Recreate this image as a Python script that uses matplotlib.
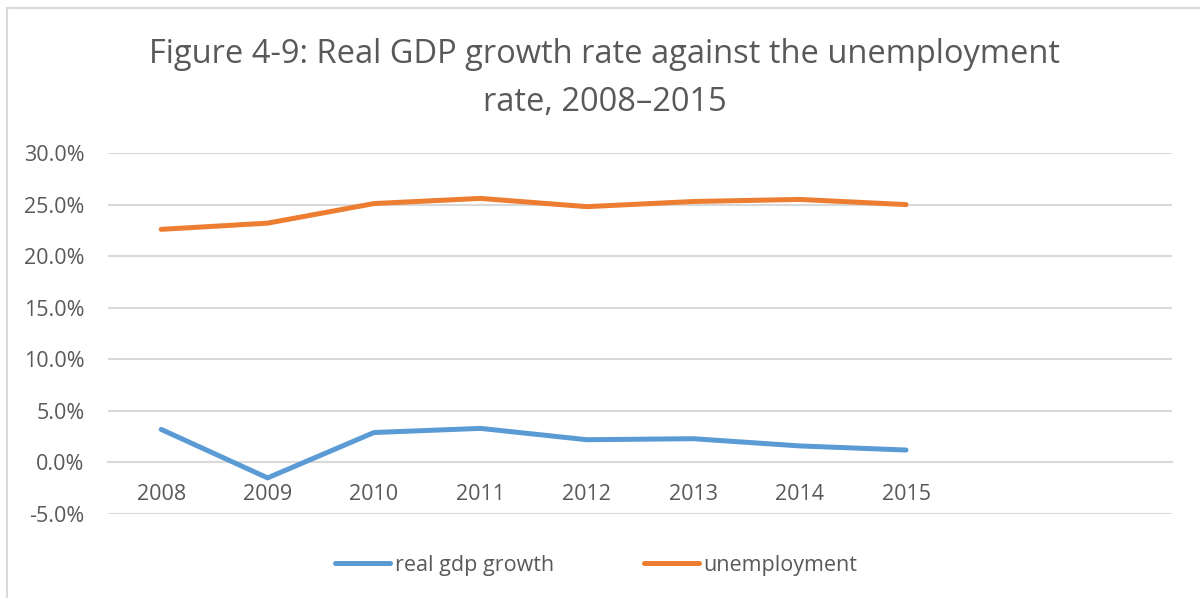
#!/usr/bin/env python3
"""Real GDP growth rate against the unemployment rate, 2008-2015."""

import matplotlib

matplotlib.use("Agg")
import matplotlib.pyplot as plt
from matplotlib.patches import Rectangle
from matplotlib.ticker import FuncFormatter

years = ["2008", "2009", "2010", "2011", "2012", "2013", "2014", "2015"]
gdp_growth = [3.2, -1.5, 2.9, 3.3, 2.2, 2.3, 1.6, 1.2]
unemployment = [22.6, 23.2, 25.1, 25.6, 24.8, 25.3, 25.5, 25.0]
y_ticks = [-5, 0, 5, 10, 15, 20, 25, 30]

BLUE = "#5b9bd5"
ORANGE = "#ed7d31"
GRID = "#d9d9d9"
TEXT = "#595959"

plt.rcParams["font.family"] = ["Open Sans", "DejaVu Sans"]

fig = plt.figure(figsize=(12, 5.98), dpi=100)
ax = fig.add_axes([0.09, 0.1405, 0.8867, 0.6036])

xs = list(range(len(years)))
ax.plot(xs, gdp_growth, color=BLUE, linewidth=3.6, solid_capstyle="round",
        solid_joinstyle="round", label="real gdp growth", zorder=3)
ax.plot(xs, unemployment, color=ORANGE, linewidth=3.6, solid_capstyle="round",
        solid_joinstyle="round", label="unemployment", zorder=3)

ax.set_xlim(-0.5, 9.5)
ax.set_ylim(-5, 30)
ax.set_yticks(y_ticks)
ax.yaxis.set_major_formatter(FuncFormatter(lambda v, _: f"{v:.1f}%"))
ax.set_xticks(xs)
ax.set_xticklabels(years)

ax.grid(axis="y", color=GRID, linewidth=1.5)
ax.set_axisbelow(True)
for side in ("top", "right", "left"):
    ax.spines[side].set_visible(False)
ax.spines["bottom"].set_position(("data", 0))
ax.spines["bottom"].set_color(GRID)
ax.spines["bottom"].set_linewidth(1.5)
ax.tick_params(axis="both", length=0, colors=TEXT, labelsize=15.5)
ax.tick_params(axis="x", pad=15.5)
ax.tick_params(axis="y", pad=17)

fig.text(0.504, 0.869, "Figure 4-9: Real GDP growth rate against the unemployment\nrate, 2008\u20132015",
         ha="center", va="center", multialignment="center", fontsize=23.5,
         color=TEXT, linespacing=1.58)

fig.legend(loc="center", bbox_to_anchor=(0.497, 1 - 565 / 598), ncol=2,
           frameon=False, fontsize=15.5, handlelength=2.55, handletextpad=0.23,
           columnspacing=4.15, labelcolor=TEXT)

# chart border (only left and top edges are inside the crop)
fig.patches.append(Rectangle((7 / 1200, -0.1), 1.2, 1 - 8 / 598 + 0.1,
                             transform=fig.transFigure, fill=False,
                             edgecolor=GRID, linewidth=1.5))

fig.savefig("out.png", dpi=100)
